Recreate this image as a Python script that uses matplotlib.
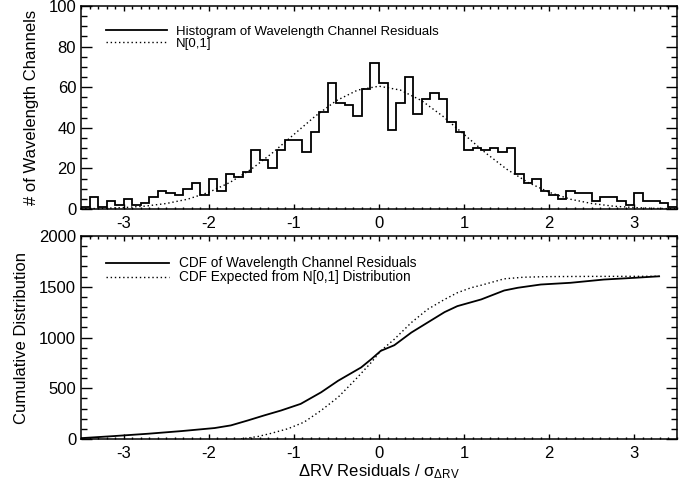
import numpy as np
import matplotlib
matplotlib.use("Agg")
import matplotlib.pyplot as plt

plt.rcParams['font.family'] = ['Liberation Sans', 'DejaVu Sans']
plt.rcParams['mathtext.fontset'] = 'custom'
plt.rcParams['mathtext.rm'] = 'Liberation Sans'
plt.rcParams['mathtext.it'] = 'Liberation Sans'
plt.rcParams['mathtext.sf'] = 'Liberation Sans'

# ---------------- data ----------------
# histogram bins (width 0.1 from -3.5 to 3.5)
bin_lo = -3.5
bin_hi = 3.5
hist_counts = [1, 6, 1, 4, 2, 5, 2, 3, 6, 9,
               8, 7, 10, 13, 7, 15, 9, 17, 16, 18,
               29, 24, 20, 29, 34, 34, 28, 38, 48, 62,
               52, 51, 46, 59, 72, 62, 39, 52, 65, 47,
               54, 57, 54, 43, 38, 29, 30, 29, 30, 28,
               30, 17, 13, 15, 9, 7, 5, 9, 8, 8,
               4, 6, 6, 4, 2, 8, 4, 4, 3, 1]

# N[0,1] curve
gauss_x = [-3.5, -3.25, -3.0, -2.75, -2.5, -2.25, -2.0, -1.75, -1.5, -1.25, -1.0, -0.75, -0.5, -0.25,
           0.0, 0.25, 0.5, 0.75, 1.0, 1.25, 1.5, 1.75, 2.0, 2.25, 2.5, 2.75, 3.0, 3.25, 3.5]
gauss_y = [0.1, 0.3, 0.7, 1.4, 2.7, 4.8, 8.2, 13.1, 19.6, 27.7, 36.7, 45.7, 53.4, 58.6,
           60.5, 58.6, 53.4, 45.7, 36.7, 27.7, 19.6, 13.1, 8.2, 4.8, 2.7, 1.4, 0.7, 0.3, 0.1]

# CDF of residuals (solid)
cdf_x = [-3.6, -3.11, -2.71, -2.32, -1.93, -1.74, -1.54, -1.35, -1.15, -0.92, -0.68, -0.48,
         -0.21, -0.09, 0.02, 0.18, 0.38, 0.57, 0.77, 0.92, 1.2, 1.47, 1.63, 1.9, 2.25, 2.64,
         3.0, 3.29]
cdf_y = [3, 29, 52, 78, 108, 134, 183, 232, 281, 346, 460, 574,
         705, 787, 868, 924, 1049, 1147, 1250, 1309, 1375, 1463, 1490, 1522, 1539, 1571,
         1588, 1603]

# CDF expected from N[0,1] (dotted)
ncdf_x = [-1.62, -1.42, -1.27, -1.07, -0.88, -0.68, -0.48, -0.29, -0.09, 0.02, 0.18, 0.38,
          0.57, 0.77, 0.92, 1.08, 1.2, 1.47, 1.7, 2.0, 2.5, 3.29]
ncdf_y = [0, 25, 55, 101, 166, 281, 412, 574, 755, 868, 983, 1147,
          1277, 1375, 1441, 1490, 1515, 1578, 1594, 1600, 1602, 1603]

x_ticks = [-3, -2, -1, 0, 1, 2, 3]
top_yticks = [0, 20, 40, 60, 80, 100]
bot_yticks = [0, 500, 1000, 1500, 2000]

# ---------------- figure ----------------
W, H = 688, 483
fig = plt.figure(figsize=(W / 100, H / 100), dpi=100)
ax1 = fig.add_axes([81 / W, 1 - 209 / H, 596 / W, 203 / H])
ax2 = fig.add_axes([81 / W, 1 - 439 / H, 596 / W, 203 / H])

edges = np.linspace(bin_lo, bin_hi, len(hist_counts) + 1)
ax1.stairs(hist_counts, edges, color='black', lw=1.3, baseline=None,
           label='Histogram of Wavelength Channel Residuals')
ax1.plot(gauss_x, gauss_y, color='black', lw=1.0, ls=(0, (1, 2)), label='N[0,1]')

ax2.plot(cdf_x, cdf_y, color='black', lw=1.3, label='CDF of Wavelength Channel Residuals')
ax2.plot(ncdf_x, ncdf_y, color='black', lw=1.0, ls=(0, (1, 2)),
         label='CDF Expected from N[0,1] Distribution')

tick_fs = 12
for ax, yt, ylim, yminor in [(ax1, top_yticks, (0, 100), 5), (ax2, bot_yticks, (0, 2000), 100)]:
    ax.set_xlim(-3.5, 3.5)
    ax.set_ylim(*ylim)
    ax.set_xticks(x_ticks)
    ax.set_yticks(yt)
    ax.set_xticks(np.arange(-3.5, 3.51, 0.1), minor=True)
    ax.set_yticks(np.arange(ylim[0], ylim[1] + 0.1, yminor), minor=True)
    ax.tick_params(which='both', direction='in', top=True, right=True, labelsize=tick_fs,
                   width=1.0, colors='black')
    ax.tick_params(axis='y', which='major', length=8, pad=3.5)
    ax.tick_params(axis='y', which='minor', length=4)
    ax.tick_params(axis='x', which='major', length=3.5, pad=5)
    ax.tick_params(axis='x', which='minor', length=1.8)
    for s in ax.spines.values():
        s.set_linewidth(1.1)

ax1.set_xticklabels([str(t) for t in x_ticks])
ax2.set_xticklabels([str(t) for t in x_ticks])

ax1.set_ylabel('# of Wavelength Channels', fontsize=12, labelpad=7)
ax2.set_ylabel('Cumulative Distribution', fontsize=12, labelpad=7)
ax2.set_xlabel(r'$\Delta$RV Residuals / $\sigma_{\Delta\mathrm{RV}}$', fontsize=12, labelpad=1)

leg_kw = dict(loc='upper left', frameon=False, handlelength=4.6,
              handletextpad=0.7, labelspacing=0.0, borderaxespad=0.0)
ax1.legend(bbox_to_anchor=(20 / 596, 1 - 14 / 203), fontsize=9.5, **leg_kw)
ax2.legend(bbox_to_anchor=(20 / 596, 1 - 15 / 203), fontsize=9.8, **leg_kw)

fig.savefig('out.png', dpi=100)
